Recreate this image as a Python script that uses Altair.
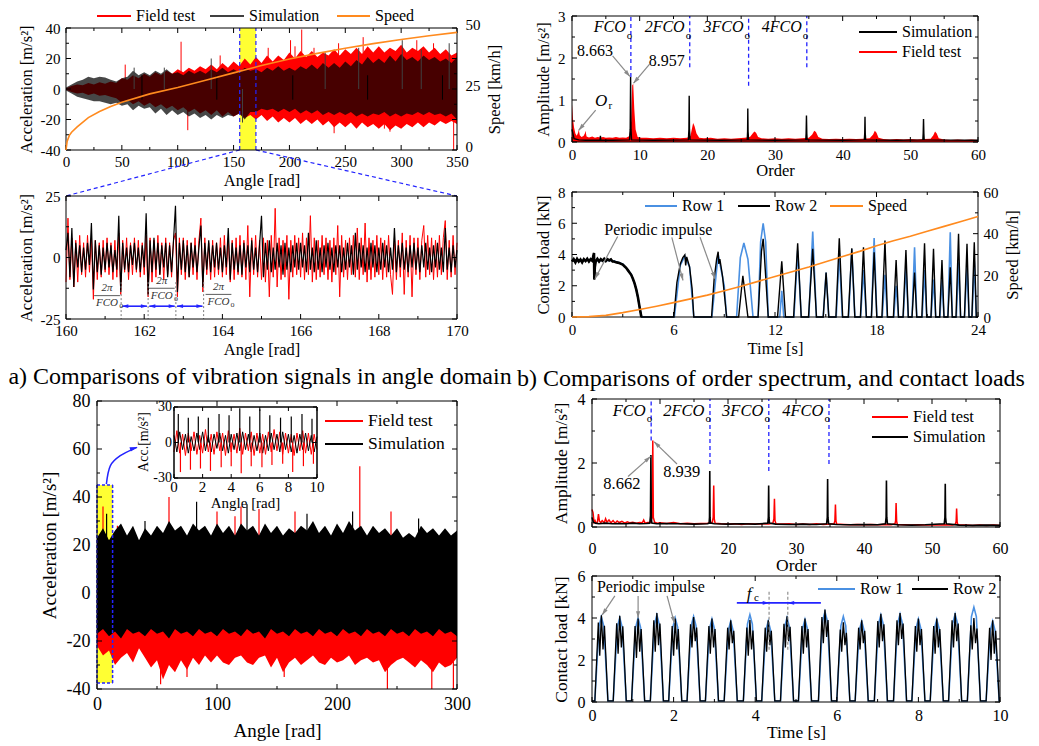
import math
import altair as alt
import pandas as pd

FONT = "Liberation Serif"
RED = "#ff0000"
ORANGE = "#ff8a1e"
LBLUE = "#4a90e2"
DBLUE = "#2323ff"
GRAY = "#8a8a8a"
YELLOW = "#ffff33"

# ============================ DATA ============================
# (a) top: envelopes of acceleration vs angle (read every 5 rad)
TL_X = list(range(0, 351, 5))
TL_RED_HI = [0.5, 2, 3, 2.5, 4, 3, 4.5, 3.5, 5, 4,
             7, 6, 9, 7, 10, 8, 11, 9, 12, 10,
             13, 11, 14, 12, 15, 13, 16, 13, 17, 14,
             18, 15, 20, 16, 21, 17, 22, 18, 22, 19,
             24, 20, 25, 21, 25, 21, 24, 22, 26, 22,
             26, 23, 27, 23, 28, 24, 28, 24, 27, 25,
             29, 24, 27, 25, 28, 24, 27, 23, 26, 22,
             24]
TL_RED_LO = [-0.5, -2, -3, -2.5, -4, -3, -4.5, -4, -5, -6,
             -9, -7, -10, -8, -11, -9, -12, -10, -13, -11,
             -14, -12, -15, -13, -16, -14, -17, -14, -18, -15,
             -18, -16, -19, -17, -20, -17, -21, -18, -22, -19,
             -22, -19, -23, -20, -23, -20, -24, -21, -25, -22,
             -25, -22, -26, -22, -25, -23, -26, -23, -27, -24,
             -26, -23, -25, -22, -25, -22, -24, -21, -23, -21,
             -23]
TL_SIM_HI = [1, 3, 5, 6, 8, 7, 8, 7.5, 6, 5,
             7, 8, 12, 9, 11, 9, 12, 10, 13, 10,
             11, 9, 12, 10, 12, 10, 13, 11, 14, 11,
             13, 11, 14, 12, 13, 11, 14, 12, 15, 12,
             14, 12, 15, 13, 16, 13, 17, 14, 17, 14,
             18, 15, 19, 16, 21, 17, 20, 17, 22, 18,
             23, 19, 21, 18, 22, 19, 21, 18, 20, 17,
             21]
TL_SIM_LO = [-1, -3, -5, -6, -7, -8, -8, -9, -10, -9,
             -11, -10, -14, -11, -13, -12, -16, -13, -17, -14,
             -17, -15, -18, -16, -19, -17, -20, -17, -19, -17,
             -18, -16, -20, -15, -15, -13, -14, -13, -15, -13,
             -15, -13, -16, -14, -16, -14, -17, -15, -17, -15,
             -17, -15, -18, -16, -18, -16, -17, -15, -18, -16,
             -18, -16, -17, -15, -17, -15, -17, -16, -18, -16,
             -20]
TL_RSPK_X = [53, 103, 109, 138, 181, 201, 205, 211, 222, 240, 244, 266, 285, 290, 314, 329, 347]
TL_RSPK_V = [16, 31, -27, 22, 27, 32, 28, 39, 27, -29, 30, 34, -26, -28, 32, 30, -40]
TL_SSPK_X = [61, 88, 130, 158, 232, 262, 301, 318, 343]
TL_SSPK_V = [14, 14, 20, -22, 24, 27, 32, 26, 30]
TL_IMP_X = [68, 135, 203, 270, 337]
TL_SPD_X = [0, 1, 3, 5, 10, 20, 30, 40, 50, 75, 100, 125, 150, 175, 200, 225, 250, 275, 300, 325, 350]
TL_SPD_V = [0, 3.5, 6, 7.3, 9.5, 13.3, 15.8, 17.8, 19.6, 23.0, 25.6, 28.6, 31.6, 34.6, 37.3, 39.6,
            41.7, 43.6, 45.3, 46.8, 48.2]

# (a) middle: 160-170 rad, samples every 0.05 rad
ML_X = [round(160 + 0.05 * i, 2) for i in range(201)]
ML_SIM = ([3, 10, -8, 12, -12, 6, -4, 5, -6, 4, -5, 6, -3, 14, -13, 7, -6, 5, -7, 4]
          + [-5, 6, -4, 5, -6, 3, -5, 17, -14, 6, -5, 4, -6, 5, -3, 6, -5, 4, -6, 5]
          + [-4, 18, -15, 7, -6, 8, -5, 6, -7, 5, -4, 6, -8, 5, -6, 7, 21, -14, 6, -5]
          + [7, -6, 5, -8, 6, -4, 5, -6, 4, 13, -12, 6, -5, 7, -6, 5, -4, 6, -5, 4]
          + [-6, 5, -4, 12, -9, 6, -5, 4, -6, 5, -7, 6, -4, 5, -6, 7, -5, 4, -6, 5]
          + [17, -8, 6, -5, 7, -6, 4, -5, 6, -4, 5, -7, 6, -5, 4, -6, 5, -4, 6, -5]
          + [6, -4, 5, -6, 10, -5, 4, -6, 7, -5, 4, -6, 5, -4, 6, -5, 4, -6, 5, -4]
          + [5, -6, 4, -5, 6, -4, 5, -7, 10, -5, 6, -4, 5, -6, 4, -5, 6, -4, 5, -6]
          + [4, -5, 6, -4, 5, -6, 4, -5, 12, -6, 5, -4, 6, -5, 4, -6, 5, -4, 6, -5]
          + [4, -6, 5, -4, 6, -5, 4, -6, 5, -4, 6, -5, 4, -6, 12, -5, 4, -6, 5, -4]
          + [3])
ML_RED = ([-10, 16, -9, 8, -12, 7, -10, 9, -7, 6, -8, 9, -6, 8, -17, 7, -9, 6, -8, 7]
          + [-6, 8, -7, 6, -9, 7, -8, 10, -15, 7, -6, 8, -9, 6, -7, 8, -6, 7, -8, 6]
          + [-7, 9, -16, 8, -10, 7, -8, 9, -7, 6, -9, 8, -7, 6, -8, 7, 10, -16, 8, -7]
          + [8, -9, 7, -8, 6, -7, 8, -9, 7, 16, -14, 8, -7, 6, -9, 7, -8, 6, -7, 8]
          + [-8, 9, -7, 8, -10, 7, -9, 8, -7, 9, -8, 7, -9, 13, -16, 8, -7, 9, -8, 7]
          + [-9, 8, -10, 7, -16, 9, -8, 20, -12, 8, -9, 7, -8, 9, -17, 7, -8, 9, -7, 8]
          + [-8, 10, -9, 8, -7, 17, -10, 8, -9, 7, -8, 9, -7, 8, -9, 7, -10, 8, -7, 13]
          + [-16, 9, -8, 7, -9, 8, -7, 9, -8, 12, -9, 8, -7, 14, -10, 8, -9, 7, -8, 9]
          + [-7, 8, -9, 7, -8, 9, -7, -15, 8, -9, 7, -8, 10, -15, 7, -8, 9, -16, 8, -7]
          + [8, -9, 7, 13, -8, 9, -7, 8, -9, 7, -8, 9, -7, 8, 15, -9, 7, -8, 9, -7]
          + [6])
ML_MARK_X = [161.41, 162.10, 162.81, 163.52]
ML_FR_X = [161.05, 162.45, 163.9]
ML_FR_BAR = [-15.5, -12.5, -15.0]

# (a) bottom: 0-300 rad envelopes (every 5 rad)
BL_X = list(range(0, 301, 5))
BL_SIM_HI = [23, 27, 22, 26, 29, 24, 28, 22, 27, 24,
             28, 25, 30, 26, 28, 24, 29, 26, 28, 24,
             29, 25, 28, 24, 29, 26, 28, 24, 29, 25,
             28, 24, 27, 25, 28, 26, 30, 25, 28, 24,
             29, 25, 30, 26, 28, 24, 28, 25, 27, 24,
             27, 23, 25, 23, 28, 25, 27, 24, 27, 24,
             26]
BL_SIM_LO = [-17, -15, -18, -16, -19, -15, -17, -16, -18, -15,
             -17, -16, -19, -15, -17, -16, -18, -15, -17, -16,
             -18, -15, -17, -16, -18, -15, -17, -16, -19, -15,
             -17, -16, -18, -15, -17, -16, -18, -15, -17, -16,
             -18, -15, -17, -16, -18, -15, -17, -16, -18, -15,
             -17, -16, -18, -15, -17, -16, -18, -15, -17, -16,
             -18]
BL_RED_HI = [21, 24, 20, 23, 25, 22, 25, 20, 24, 22,
             25, 23, 27, 23, 25, 22, 26, 23, 25, 22,
             26, 23, 25, 22, 26, 23, 25, 22, 26, 23,
             25, 22, 24, 23, 25, 23, 27, 23, 25, 22,
             26, 23, 27, 23, 25, 22, 25, 23, 24, 22,
             24, 21, 23, 21, 25, 23, 24, 22, 24, 22,
             23]
BL_RED_LO = [-22, -26, -24, -30, -27, -25, -29, -23, -27, -31,
             -28, -36, -30, -33, -28, -32, -27, -30, -26, -29,
             -26, -29, -30, -27, -26, -29, -30, -27, -26, -31,
             -27, -33, -29, -27, -30, -28, -26, -29, -30, -27,
             -29, -28, -26, -30, -28, -27, -29, -28, -33, -30,
             -28, -27, -29, -31, -28, -30, -33, -29, -31, -30,
             -27]
BL_RSPK_X = [5, 17, 53, 60, 75, 100, 115, 120, 135, 156, 165, 219, 242, 245, 279, 297]
BL_RSPK_V = [36, 28, -38, 40, -35, 34, 32, 36, 35, -35, 34, 52.8, -40, 34, -40, -40]
BL_SSPK_X = [8, 40, 83, 125, 175, 213, 268]
BL_SSPK_V = [33, 30, 38, 37, 33, 34, 31]
# inset 0-10 rad, every 0.2 rad
INS_X = [round(0.2 * i, 1) for i in range(51)]
INS_SIM = [6, -8, 9, -6, 7, -9, 5, -7, 8, -6, 9, -7, 6, -8, 7, -5, 8, -7, 6, -9,
           7, -6, 8, -7, 9, -6, 7, -8, 6, -7, 8, -9, 6, -7, 8, -6, 7, -8, 9, -6,
           7, -8, 6, -9, 7, -6, 8, -7, 6, -8, 5]
INS_RED = [-8, 10, -9, 7, -11, 8, -7, 9, -10, 6, -9, 11, -8, 7, -10, 9, -7, 8, -11, 10,
           -8, 7, -9, 12, -10, 8, -7, 9, -11, 8, -9, 7, -10, 9, -8, 11, -7, 9, -10, 8,
           -9, 7, -11, 8, -7, 10, -9, 8, -10, 7, -6]
INS_SSPK_X = [0.3, 1.0, 1.7, 2.4, 3.15, 3.85, 4.6, 5.3, 6.0, 6.7, 7.45, 8.2, 8.95, 9.65]
INS_SSPK_V = [24, 21, 22, 21, 24, 23, 29, 22, 28, 23, 21, 22, 24, 20]
INS_RSPK_X = [0.45, 1.15, 1.85, 2.55, 3.3, 4.0, 4.7, 5.4, 6.15, 6.85, 7.6, 8.3, 9.05, 9.75]
INS_RSPK_V = [-25, -23, -22, -24, -21, -20, -26, -20, -21, -19, -18, -25, -20, -18]

# (b) top: order spectrum
TR_RED_X = [0, 0.15, 0.3, 0.5, 0.7, 0.9, 1.0, 1.15, 1.4, 1.7,
            1.9, 2.0, 2.15, 2.5, 3.0, 3.4, 3.8, 4.2, 4.6, 5.0,
            5.5, 6.0, 6.5, 7.0, 7.5, 8.0, 8.5, 8.75, 8.9, 9.05,
            9.2, 9.4, 9.7, 10.2, 11, 12, 13, 14, 15, 16,
            17, 17.5, 17.7, 17.9, 18.1, 18.4, 18.8, 19.5, 20.5, 21.5,
            22.5, 23.5, 24.5, 25.5, 26.3, 26.7, 26.95, 27.2, 27.5, 28,
            29, 30, 31, 32, 33, 34, 35, 35.5, 35.8, 36.05,
            36.4, 37, 38, 39, 40, 41, 42, 43, 44, 44.5,
            44.75, 45.0, 45.3, 46, 47, 48, 49, 50, 51, 52,
            53, 53.4, 53.65, 53.9, 54.2, 55, 56, 57, 58, 59,
            60]
TR_RED_Y = [0.9, 0.55, 0.35, 0.2, 0.15, 0.22, 0.3, 0.16, 0.12, 0.14,
            0.2, 0.27, 0.13, 0.11, 0.13, 0.1, 0.12, 0.11, 0.12, 0.1,
            0.11, 0.1, 0.12, 0.1, 0.11, 0.1, 0.14, 0.5, 1.35, 1.38,
            0.8, 0.3, 0.12, 0.1, 0.1, 0.09, 0.1, 0.09, 0.1, 0.09,
            0.1, 0.14, 0.3, 0.45, 0.38, 0.2, 0.1, 0.09, 0.1, 0.08,
            0.09, 0.08, 0.09, 0.1, 0.12, 0.2, 0.25, 0.22, 0.12, 0.09,
            0.08, 0.09, 0.08, 0.09, 0.08, 0.09, 0.1, 0.18, 0.27, 0.24,
            0.12, 0.08, 0.07, 0.08, 0.07, 0.08, 0.07, 0.08, 0.09, 0.18,
            0.27, 0.22, 0.1, 0.07, 0.06, 0.07, 0.06, 0.07, 0.06, 0.07,
            0.08, 0.16, 0.25, 0.2, 0.09, 0.06, 0.05, 0.06, 0.05, 0.06,
            0.05]
TR_SIM_X = [0, 0.3, 1, 2, 3, 4.15, 4.2, 4.25, 6, 8.5,
            8.6, 8.66, 8.72, 8.8, 12, 17.2, 17.28, 17.32, 17.36, 17.45,
            22, 25.9, 25.95, 25.98, 26.02, 26.1, 30, 34.55, 34.6, 34.65,
            34.7, 34.75, 40, 43.2, 43.26, 43.3, 43.34, 43.4, 48, 51.85,
            51.9, 51.95, 52.0, 52.05, 60]
TR_SIM_Y = [0.3, 0.08, 0.05, 0.04, 0.04, 0.04, 0.15, 0.04, 0.04, 0.05,
            0.3, 1.55, 0.3, 0.05, 0.04, 0.05, 0.3, 1.1, 0.3, 0.05,
            0.04, 0.05, 0.25, 0.8, 0.25, 0.05, 0.04, 0.05, 0.2, 0.63,
            0.2, 0.05, 0.04, 0.05, 0.2, 0.6, 0.2, 0.05, 0.04, 0.05,
            0.2, 0.55, 0.2, 0.05, 0.04]
TR_FCO_X = [8.7, 17.4, 26.1, 34.7]
TR_FCO_LOW = [1.55, 1.78, 1.34, 1.78]
FCO_TEXT = ["FCO", "2FCO", "3FCO", "4FCO"]

# (b) contact loads over 24 s
R2_ROW2_T = ([0.0, 0.1, 0.2, 0.3, 0.4, 0.5, 0.6, 0.7, 0.8, 0.9, 1.0, 1.1, 1.2, 1.3, 1.32, 1.35,
              1.4, 1.5, 1.6, 1.7, 1.8, 1.9, 2.0, 2.1, 2.2, 2.3, 2.4, 2.5, 2.6, 2.7, 2.8, 2.9,
              3.0, 3.1, 3.2, 3.3, 3.4, 3.5, 3.6, 3.7, 3.8, 3.9, 4.0, 4.1]
             + [6.02, 6.2, 6.4, 6.55, 6.67, 6.72, 6.78, 6.95, 7.1, 7.2,
                8.25, 8.4, 8.55, 8.64, 8.68, 8.74, 8.9, 9.05, 9.14,
                9.85, 10.1, 10.4, 11.0, 11.2, 11.3, 11.35, 11.6,
                12.15, 12.4, 12.62, 13.1, 13.34, 13.55, 13.98, 14.23, 14.45,
                14.85, 15.02, 15.18, 15.6, 15.8, 16.0, 16.33, 16.54, 16.72,
                17.05, 17.23, 17.4, 17.7, 17.86, 18.02, 18.32, 18.5, 18.65,
                19.0, 19.16, 19.3, 19.57, 19.74, 19.88, 20.1, 20.25, 20.38,
                20.68, 20.84, 20.97, 21.22, 21.37, 21.5, 21.73, 21.87, 21.99,
                22.22, 22.36, 22.48, 22.7, 22.85, 22.97, 23.2, 23.35, 23.47,
                23.64, 23.78, 23.9, 24.0])
R2_ROW2_V = ([3.55, 3.7, 3.5, 3.72, 3.55, 3.68, 3.5, 3.7, 3.58, 3.72, 3.55, 3.7, 3.6, 4.1, 2.4, 3.2,
              3.55, 3.72, 3.55, 3.7, 3.6, 3.72, 3.58, 3.7, 3.62, 3.68, 3.55, 3.55, 3.5, 3.48, 3.45, 3.4,
              3.35, 3.25, 3.15, 3.0, 2.85, 2.7, 2.45, 2.15, 1.75, 1.25, 0.6, 0.0]
             + [0, 2.2, 3.4, 3.8, 3.97, 3.3, 3.85, 3.2, 1.8, 0,
                0, 2.4, 3.7, 4.18, 3.4, 3.7, 2.6, 1.0, 0,
                0, 2.64, 0, 0, 4.2, 5.0, 4.3, 0,
                0, 3.56, 0, 0, 4.72, 0, 0, 4.36, 0,
                0, 2.85, 0, 0, 5.04, 0, 0, 4.4, 0,
                0, 4.46, 0, 0, 4.14, 0, 0, 4.89, 0,
                0, 3.65, 0, 0, 4.29, 0, 0, 2.85, 0,
                0, 4.72, 0, 0, 4.36, 0, 0, 3.65, 0,
                0, 3.18, 0, 0, 5.32, 0, 0, 4.68, 0,
                0, 4.79, 0, 0])
R2_ROW1_T = ([0, 0.5, 1.0, 1.3, 1.5, 2.0, 2.5, 3.0, 3.5, 3.8, 4.0, 4.12]
             + [6.05, 6.4, 6.67, 6.95, 7.2, 8.27, 8.64, 9.0, 9.14,
                9.73, 9.95, 10.16, 10.4, 10.7, 11.0, 11.15, 11.3, 11.45, 11.6,
                12.28, 12.4, 12.52, 13.12, 13.34, 13.55, 14.0, 14.23, 14.45,
                14.85, 15.02, 15.18, 15.62, 15.8, 15.98, 16.35, 16.54, 16.72,
                17.06, 17.23, 17.4, 17.7, 17.86, 18.02, 18.34, 18.5, 18.64,
                19.02, 19.16, 19.3, 19.58, 19.74, 19.88, 20.1, 20.25, 20.38,
                20.7, 20.84, 20.97, 21.23, 21.37, 21.5, 21.75, 21.87, 21.99,
                22.22, 22.36, 22.48, 22.72, 22.85, 22.97, 23.2, 23.35, 23.47,
                23.65, 23.78, 23.9, 24.0])
R2_ROW1_V = ([3.68, 3.62, 3.66, 3.62, 3.6, 3.64, 3.58, 3.4, 2.75, 1.8, 0.6, 0]
             + [0, 3.3, 3.9, 3.2, 0, 0, 4.0, 2.0, 0,
                0, 3.8, 4.74, 3.7, 0, 0, 4.8, 6.0, 4.8, 0,
                0, 1.67, 0, 0, 4.25, 0, 0, 5.47, 0,
                0, 2.85, 0, 0, 4.1, 0, 0, 4.35, 0,
                0, 3.0, 0, 0, 5.06, 0, 0, 2.7, 0,
                0, 2.0, 0, 0, 3.2, 0, 0, 4.46, 0,
                0, 3.0, 0, 0, 2.4, 0, 0, 2.4, 0,
                0, 5.43, 0, 0, 3.5, 0, 0, 3.2, 0,
                0, 3.6, 0, 0])
R2_SPD_T = list(range(0, 25))
R2_SPD_V = [0, 0.2, 0.8, 2.1, 3.6, 5.2, 6.9, 8.7, 10.5, 12.6, 14.8, 17.1, 19.4, 21.7, 24.0,
            26.5, 29.0, 31.5, 34.2, 36.6, 38.8, 41.2, 43.5, 45.8, 48.2]

# (b) second order spectrum
R3_RED_X = [0, 0.15, 0.3, 0.45, 0.6, 0.8, 0.95, 1.1, 1.3, 1.5,
            1.8, 2.0, 2.2, 2.5, 2.8, 3.1, 3.4, 3.7, 4.0, 4.4,
            4.8, 5.2, 5.6, 6.0, 6.5, 7.0, 7.4, 7.6, 7.8, 8.2,
            8.6, 8.85, 8.94, 9.02, 9.2, 9.6, 10, 11, 12, 13,
            14, 15, 16, 17, 17.7, 17.82, 17.9, 17.98, 18.1, 19,
            20, 21, 22, 23, 24, 25, 26, 26.6, 26.75, 26.83,
            26.91, 27.05, 28, 29, 30, 31, 32, 33, 34, 35,
            35.6, 35.72, 35.8, 35.88, 36.0, 37, 38, 39, 40, 41,
            42, 43, 44, 44.55, 44.65, 44.72, 44.8, 44.9, 46, 47,
            48, 49, 50, 51, 52, 53, 53.45, 53.55, 53.62, 53.7,
            53.8, 55, 56, 57, 58, 59, 60]
R3_RED_Y = [0.55, 0.45, 0.15, 0.2, 0.12, 0.15, 0.4, 0.18, 0.14, 0.2,
            0.13, 0.26, 0.15, 0.22, 0.13, 0.2, 0.12, 0.19, 0.14, 0.18,
            0.12, 0.16, 0.13, 0.15, 0.12, 0.14, 0.13, 0.22, 0.12, 0.14,
            0.15, 0.3, 2.7, 0.3, 0.15, 0.12, 0.13, 0.11, 0.14, 0.1,
            0.12, 0.1, 0.11, 0.12, 0.15, 0.3, 1.3, 0.25, 0.12, 0.1,
            0.09, 0.1, 0.08, 0.1, 0.09, 0.1, 0.09, 0.12, 0.25, 0.88,
            0.2, 0.1, 0.09, 0.1, 0.08, 0.09, 0.08, 0.1, 0.08, 0.09,
            0.1, 0.2, 0.7, 0.18, 0.09, 0.08, 0.07, 0.08, 0.07, 0.08,
            0.07, 0.08, 0.07, 0.1, 0.2, 0.75, 0.18, 0.08, 0.07, 0.06,
            0.07, 0.06, 0.07, 0.06, 0.07, 0.06, 0.09, 0.18, 0.58, 0.15,
            0.07, 0.06, 0.05, 0.06, 0.05, 0.06, 0.05]
R3_SIM_X = [0, 0.2, 0.5, 1, 2, 3, 4, 5, 6, 7,
            8, 8.5, 8.6, 8.66, 8.72, 8.8, 9.5, 11, 13, 15,
            17, 17.22, 17.28, 17.32, 17.36, 17.42, 18, 20, 22, 24,
            25.85, 25.93, 25.98, 26.03, 26.1, 27, 29, 31, 33, 34.5,
            34.6, 34.65, 34.7, 34.8, 36, 38, 40, 42, 43.15, 43.25,
            43.3, 43.35, 43.45, 45, 47, 49, 51.8, 51.9, 51.95, 52.0,
            52.1, 54, 56, 58, 60]
R3_SIM_Y = [0.3, 0.15, 0.12, 0.1, 0.12, 0.1, 0.11, 0.1, 0.12, 0.1,
            0.11, 0.12, 0.35, 2.25, 0.3, 0.12, 0.1, 0.11, 0.1, 0.09,
            0.1, 0.12, 0.3, 1.75, 0.3, 0.12, 0.1, 0.09, 0.1, 0.09,
            0.12, 0.3, 1.3, 0.3, 0.12, 0.09, 0.08, 0.09, 0.08, 0.1,
            0.3, 1.5, 0.3, 0.1, 0.08, 0.07, 0.08, 0.07, 0.1, 0.3,
            1.45, 0.3, 0.1, 0.07, 0.06, 0.07, 0.1, 0.3, 1.35, 0.3,
            0.1, 0.06, 0.05, 0.06, 0.05]
R3_FCO_X = [8.7, 17.35, 26.0, 34.85]
R3_FCO_LOW = [2.7, 1.97, 1.75, 1.97]

# (b) contact loads over 10 s (one hump per row-2 impulse)
R4_PEAK_T = [0.23, 0.68, 1.13, 1.59, 2.04, 2.49, 2.94, 3.40, 3.87, 4.32, 4.78,
             5.22, 5.71, 6.16, 6.61, 7.08, 7.55, 8.00, 8.45, 8.90, 9.36, 9.82]
R4_START = [0.07, 0.52, 0.97, 1.43, 1.88, 2.33, 2.78, 3.24, 3.71, 4.16, 4.62,
            5.06, 5.55, 6.00, 6.45, 6.92, 7.39, 7.84, 8.29, 8.74, 9.20, 9.66]
R4_END = [0.39, 0.84, 1.29, 1.75, 2.20, 2.65, 3.10, 3.56, 4.03, 4.48, 4.94,
          5.38, 5.87, 6.32, 6.77, 7.24, 7.71, 8.16, 8.61, 9.06, 9.52, 9.98]
R4_ROW2 = [4.13, 4.10, 3.97, 4.24, 3.97, 4.05, 3.97, 3.89, 3.90, 3.89, 4.08,
           3.97, 4.40, 3.80, 3.89, 4.20, 4.24, 3.97, 3.97, 4.24, 4.00, 3.89]
R4_ROW1 = [4.05, 4.02, 4.00, 4.15, 4.00, 4.08, 3.95, 3.85, 4.16, 3.85, 4.02,
           3.93, 4.30, 4.08, 3.85, 4.15, 4.18, 3.95, 3.93, 4.18, 4.52, 3.85]
R4_DIP = [2.2, 2.3, 2.1, 2.4, 2.2, 2.6, 2.3, 2.5, 2.2, 2.4, 2.6,
          2.3, 2.8, 2.4, 2.5, 2.6, 2.7, 2.4, 2.3, 2.6, 2.5, 2.0]

# ============================ HELPERS ============================
HEAD = "M0,-1L0.55,0.9L-0.55,0.9Z"


def tab(**cols):
    n = min(len(v) for v in cols.values())
    return pd.DataFrame({k: list(v)[:n] for k, v in cols.items()})


def axis(title, values, lab, tit, lpad, tpad, orient=None, offset=None, tangle=None, tbase=None,
         loff=None):
    kw = dict(title=title, values=values, grid=False, domain=False, ticks=False,
              labelFont=FONT, titleFont=FONT, labelFontSize=lab, titleFontSize=tit,
              titleFontWeight="normal", labelColor="black", titleColor="black",
              labelPadding=lpad, titlePadding=tpad, labelFlush=False, labelOverlap=False,
              labelExpr="'' + datum.value")
    if orient:
        kw["orient"] = orient
    if offset is not None:
        kw["offset"] = offset
    if tangle is not None:
        kw["titleAngle"] = tangle
    if tbase is not None:
        kw["titleBaseline"] = tbase
    if loff is not None:
        kw["labelOffset"] = loff
    return alt.Axis(**kw)


def mkX(dom, ax, rng=None):
    sk = dict(domain=dom, nice=False, zero=False)
    if rng is not None:
        sk["range"] = rng
    sc = alt.Scale(**sk)
    return lambda f: alt.X(f, type="quantitative", scale=sc, axis=ax)


def mkY(dom, ax, rng=None):
    sk = dict(domain=dom, nice=False, zero=False)
    if rng is not None:
        sk["range"] = rng
    sc = alt.Scale(**sk)
    return lambda f: alt.Y(f, type="quantitative", scale=sc, axis=ax)


def one():
    return alt.Chart(pd.DataFrame({"a": [0]}))


def frame(X, Y, x0, x1, y0, y1, color="black", dash=None, sw=1):
    d = pd.DataFrame({"fa": [x0, x0, x0, x1], "fb": [x1, x1, x0, x1],
                      "ga": [y0, y1, y0, y0], "gb": [y0, y1, y1, y1]})
    mk = dict(color=color, strokeWidth=sw)
    if dash:
        mk["strokeDash"] = dash
    return alt.Chart(d).mark_rule(**mk).encode(x=X("fa"), x2="fb", y=Y("ga"), y2="gb")


def ticks(X, Y, xl, xr, yt, yb, xmaj, xmin, ymaj, ymin, right=True, L=5, l=3):
    out = []
    for vals, ln in ((xmaj, L), (xmin, l)):
        if vals:
            c = alt.Chart(pd.DataFrame({"tv": vals})).mark_rule(color="black", strokeWidth=1)
            out.append(c.encode(x=X("tv"), y=alt.value(yb), y2=alt.value(yb - ln)))
            out.append(c.encode(x=X("tv"), y=alt.value(yt), y2=alt.value(yt + ln)))
    for vals, ln in ((ymaj, L), (ymin, l)):
        if vals:
            c = alt.Chart(pd.DataFrame({"tv": vals})).mark_rule(color="black", strokeWidth=1)
            out.append(c.encode(y=Y("tv"), x=alt.value(xl), x2=alt.value(xl + ln)))
            if right:
                out.append(c.encode(y=Y("tv"), x=alt.value(xr), x2=alt.value(xr - ln)))
    return out


def legend(x0, x1, y, color, label, fs, sw=2):
    return [one().mark_rule(color=color, strokeWidth=sw).encode(
                x=alt.value(x0), x2=alt.value(x1), y=alt.value(y)),
            one().mark_text(text=label, font=FONT, fontSize=fs, align="left", baseline="middle",
                            color="black").encode(x=alt.value(x1 + 5), y=alt.value(y))]


def text_at(X, Y, x, y, s, fs, align="center", italic=False, color="black", angle=None):
    mk = dict(text=s, font=FONT, fontSize=fs, align=align, baseline="middle", color=color,
              fontStyle="italic" if italic else "normal")
    if angle is not None:
        mk["angle"] = angle
    return alt.Chart(pd.DataFrame({"ax": [x], "ay": [y]})).mark_text(**mk).encode(x=X("ax"), y=Y("ay"))


def arrow(X, Y, x0, y0, x1, y1, kx, ky, color, sw=1.2, size=60, both=False, line=True):
    out = []
    if line:
        d = pd.DataFrame({"p": [x0], "q": [y0], "p2": [x1], "q2": [y1]})
        out.append(alt.Chart(d).mark_rule(color=color, strokeWidth=sw).encode(
            x=X("p"), y=Y("q"), x2="p2", y2="q2"))

    def head(xa, ya, xb, yb):
        dx = (xb - xa) * kx
        dy = -(yb - ya) * ky
        ln = math.hypot(dx, dy) or 1.0
        ang = math.degrees(math.atan2(dx, -dy)) % 360
        back = 0.45 * math.sqrt(size)
        hx = xb - dx / ln * back / kx
        hy = yb + dy / ln * back / ky
        return alt.Chart(pd.DataFrame({"p": [hx], "q": [hy]})).mark_point(
            shape=HEAD, filled=True, color=color, size=size, angle=ang, opacity=1,
            strokeWidth=0).encode(x=X("p"), y=Y("q"))
    out.append(head(x0, y0, x1, y1))
    if both:
        out.append(head(x1, y1, x0, y0))
    return out


def spacer(h):
    return alt.Chart(pd.DataFrame({"s": [0]})).mark_point(opacity=0).encode(
        x=alt.X("s:Q", axis=None), y=alt.Y("s:Q", axis=None)).properties(width=1, height=h)


# ============================ PANEL (a) top ============================
LW = 391
TLH = 122
Xtl = mkX([0, 350], axis("Angle [rad]", list(range(0, 351, 50)), 15, 16.5, 4, 3))
Ytl = mkY([-40, 40], axis("Acceleration [m/s²]", [-40, -20, 0, 20, 40], 15, 16.5, 6, 6))
Ytls = mkY([0, 50], axis("Speed [km/h]", [0, 25, 50], 15, 16.5, 8, 6, orient="right",
                         tangle=270, tbase="top", loff=-4))
L = []
L.append(alt.Chart(tab(a=[155.5], b=[170], c=[-40], d=[40])).mark_rect(color=YELLOW).encode(
    x=Xtl("a"), x2="b", y=Ytl("c"), y2="d"))
L.append(alt.Chart(tab(x=TL_X, hi=TL_RED_HI, lo=TL_RED_LO)).mark_area(color=RED).encode(
    x=Xtl("x"), y=Ytl("hi"), y2="lo"))
L.append(alt.Chart(tab(x=TL_RSPK_X, v=TL_RSPK_V, z=[0] * len(TL_RSPK_X))).mark_rule(
    color=RED, strokeWidth=1).encode(x=Xtl("x"), y=Ytl("z"), y2="v"))
L.append(alt.Chart(tab(x=TL_X, hi=TL_SIM_HI, lo=TL_SIM_LO)).mark_area(color="black", opacity=0.72).encode(
    x=Xtl("x"), y=Ytl("hi"), y2="lo"))
L.append(alt.Chart(tab(x=TL_SSPK_X, v=TL_SSPK_V, z=[0] * len(TL_SSPK_X))).mark_rule(
    color="#404040", strokeWidth=1).encode(x=Xtl("x"), y=Ytl("z"), y2="v"))
L.append(alt.Chart(tab(x=TL_IMP_X, a=[-7] * 5, b=[9] * 5)).mark_rule(
    color="black", strokeWidth=1).encode(x=Xtl("x"), y=Ytl("a"), y2="b"))
L.append(alt.Chart(tab(x=[155.5, 170], a=[-40, -40], b=[40, 40])).mark_rule(
    color=DBLUE, strokeWidth=1.2, strokeDash=[4, 3]).encode(x=Xtl("x"), y=Ytl("a"), y2="b"))
Y_ML_TOP = -40 - 46 / (TLH / 80.0)
L.append(alt.Chart(tab(p=[155.5, 170], q=[-40, -40], p2=[0, 350], q2=[Y_ML_TOP, Y_ML_TOP])).mark_rule(
    color=DBLUE, strokeWidth=1.2, strokeDash=[4, 3]).encode(x=Xtl("p"), y=Ytl("q"), x2="p2", y2="q2"))
L.append(frame(Xtl, Ytl, 0, 350, -40, 40))
L += ticks(Xtl, Ytl, 0, LW, 0, TLH, list(range(0, 351, 50)), list(range(25, 350, 50)),
           [-40, -20, 0, 20, 40], [-30, -10, 10, 30])
L += legend(31, 65, -12, RED, "Field test", 16)
L += legend(144, 178, -12, "#404040", "Simulation", 16)
L += legend(271, 304, -12, ORANGE, "Speed", 16)
tl_spd = alt.Chart(tab(x=TL_SPD_X, v=TL_SPD_V)).mark_line(color=ORANGE, strokeWidth=1.6).encode(
    x=Xtl("x"), y=Ytls("v"))
TL = alt.layer(alt.layer(*L), tl_spd).resolve_scale(y="independent").properties(width=LW, height=TLH)

# ============================ PANEL (a) middle ============================
MLH = 123
Xml = mkX([160, 170], axis("Angle [rad]", [160, 162, 164, 166, 168, 170], 15, 16.5, 4, 3))
Yml = mkY([-25, 25], axis("Acceleration [m/s²]", [-25, 0, 25], 15, 16.5, 6, 6))
kx_ml = LW / 10.0
ky_ml = MLH / 50.0
L = []
L.append(alt.Chart(tab(x=ML_X, v=ML_RED)).mark_line(color=RED, strokeWidth=1).encode(
    x=Xml("x"), y=Yml("v")))
L.append(alt.Chart(tab(x=ML_X, v=ML_SIM)).mark_line(color="black", strokeWidth=1.2).encode(
    x=Xml("x"), y=Yml("v")))
L.append(alt.Chart(tab(x=ML_MARK_X, a=[-10] * 4, b=[-25] * 4)).mark_rule(
    color="#7a7a7a", strokeWidth=1, strokeDash=[2, 2]).encode(x=Xml("x"), y=Yml("a"), y2="b"))
for i in range(3):
    xa, xb = ML_MARK_X[i] + 0.03, ML_MARK_X[i + 1] - 0.03
    L += arrow(Xml, Yml, xa, -19.8, xb, -19.8, kx_ml, ky_ml, DBLUE, sw=1.6, size=45, both=True)
for i in range(3):
    fx, fb = ML_FR_X[i], ML_FR_BAR[i]
    L.append(text_at(Xml, Yml, fx, fb + 3.0, "2π", 11, italic=True, color="#333333"))
    L.append(alt.Chart(tab(p=[fx - 0.33], p2=[fx + 0.33], q=[fb])).mark_rule(
        color="#333333", strokeWidth=0.8).encode(x=Xml("p"), x2="p2", y=Yml("q")))
    L.append(text_at(Xml, Yml, fx + 0.28, fb - 3.0, "FCO", 11, align="right", italic=True, color="#333333"))
    L.append(text_at(Xml, Yml, fx + 0.31, fb - 4.2, "o", 8, align="left", color="#333333"))
L.append(frame(Xml, Yml, 160, 170, -25, 25))
L += ticks(Xml, Yml, 0, LW, 0, MLH, [160, 162, 164, 166, 168, 170], [161, 163, 165, 167, 169],
           [-25, 0, 25], [-12.5, 12.5])
ML = alt.layer(*L).properties(width=LW, height=MLH)

# ============================ PANEL (a) bottom ============================
BLH = 288
BX0 = 31
Xbl = mkX([0, 300], axis("Angle [rad]", [0, 100, 200, 300], 18, 19, 6, 8), rng=[BX0, LW])
Ybl = mkY([-40, 80], axis("Acceleration [m/s²]", [-40, -20, 0, 20, 40, 60, 80], 18, 19, 7, 7,
                          offset=-BX0))
kx_bl = (LW - BX0) / 300.0
ky_bl = BLH / 120.0
L = []
L.append(alt.Chart(tab(a=[0], b=[13], c=[-37.5], d=[45])).mark_rect(color=YELLOW).encode(
    x=Xbl("a"), x2="b", y=Ybl("c"), y2="d"))
L.append(alt.Chart(tab(x=BL_X, hi=BL_RED_HI, lo=BL_RED_LO)).mark_area(color=RED).encode(
    x=Xbl("x"), y=Ybl("hi"), y2="lo"))
L.append(alt.Chart(tab(x=BL_RSPK_X, v=BL_RSPK_V, z=[0] * len(BL_RSPK_X))).mark_rule(
    color=RED, strokeWidth=1.2).encode(x=Xbl("x"), y=Ybl("z"), y2="v"))
L.append(alt.Chart(tab(x=BL_X, hi=BL_SIM_HI, lo=BL_SIM_LO)).mark_area(color="black").encode(
    x=Xbl("x"), y=Ybl("hi"), y2="lo"))
L.append(alt.Chart(tab(x=BL_SSPK_X, v=BL_SSPK_V, z=[0] * len(BL_SSPK_X))).mark_rule(
    color="black", strokeWidth=1.2).encode(x=Xbl("x"), y=Ybl("z"), y2="v"))
L.append(frame(Xbl, Ybl, 0, 13, -37.5, 45, color=DBLUE, dash=[3, 2], sw=1.5))
L.append(alt.Chart(tab(x=[7.8, 11.1, 19.4, 33.3], y=[45.4, 53.0, 57.2, 60.7])).mark_line(
    color=DBLUE, strokeWidth=1.5, interpolate="cardinal").encode(x=Xbl("x"), y=Ybl("y")))
L += arrow(Xbl, Ybl, 26.0, 59.6, 33.6, 60.8, kx_bl, ky_bl, DBLUE, size=70, line=False)
L.append(frame(Xbl, Ybl, 0, 300, -40, 80))
L += ticks(Xbl, Ybl, BX0, LW, 0, BLH, [0, 100, 200, 300], [50, 150, 250],
           [-40, -20, 0, 20, 40, 60, 80], [-30, -10, 10, 30, 50, 70])
L += legend(259, 297, 20, RED, "Field test", 17.5)
L += legend(259, 297, 43, "black", "Simulation", 17.5)
L.append(one().mark_text(text="a) Comparisons of vibration signals in angle domain", font=FONT,
                         fontSize=24, align="center", baseline="middle", color="black").encode(
    x=alt.value(194), y=alt.value(-24)))
BL_MAIN = alt.layer(*L)

IX0, IX1, IY0, IY1 = 108, 251, 6, 77
Xin = mkX([0, 10], None, rng=[IX0, IX1])
Yin = mkY([-30, 30], None, rng=[IY1, IY0])
L = []
L.append(alt.Chart(tab(x=INS_X, v=INS_RED)).mark_line(color=RED, strokeWidth=1).encode(
    x=Xin("x"), y=Yin("v")))
L.append(alt.Chart(tab(x=INS_X, v=INS_SIM)).mark_line(color="black", strokeWidth=1).encode(
    x=Xin("x"), y=Yin("v")))
L.append(alt.Chart(tab(x=INS_RSPK_X, v=INS_RSPK_V, z=[0] * 14)).mark_rule(color=RED, strokeWidth=1.2).encode(
    x=Xin("x"), y=Yin("z"), y2="v"))
L.append(alt.Chart(tab(x=INS_SSPK_X, v=INS_SSPK_V, z=[0] * 14)).mark_rule(color="black", strokeWidth=1.2).encode(
    x=Xin("x"), y=Yin("z"), y2="v"))
L.append(frame(Xin, Yin, 0, 10, -30, 30, sw=1.5))
L += ticks(Xin, Yin, IX0, IX1, IY0, IY1, [0, 2, 4, 6, 8, 10], [], [-30, 0, 30], [], L=4)
L.append(alt.Chart(tab(x=[0, 2, 4, 6, 8, 10], s=["0", "2", "4", "6", "8", "10"])).mark_text(
    font=FONT, fontSize=15, baseline="middle", align="center", color="black").encode(
    x=Xin("x"), y=alt.value(IY1 + 9), text="s:N"))
L.append(alt.Chart(tab(y=[30, 0, -30], s=["30", "0", "-30"])).mark_text(
    font=FONT, fontSize=14, baseline="middle", align="right", color="black").encode(
    y=Yin("y"), x=alt.value(IX0 - 2), text="s:N"))
L.append(one().mark_text(text="Angle [rad]", font=FONT, fontSize=15, align="center", baseline="middle",
                         color="black").encode(x=alt.value((IX0 + IX1) / 2), y=alt.value(IY1 + 25)))
L.append(one().mark_text(text="Acc.[m/s²]", font=FONT, fontSize=14, align="center", baseline="middle",
                         color="black", angle=270).encode(x=alt.value(IX0 - 30), y=alt.value(41)))
BL_INSET = alt.layer(*L)
BL = alt.layer(BL_MAIN, BL_INSET).resolve_scale(x="independent", y="independent").properties(
    width=LW, height=BLH)

# ============================ PANEL (b) top ============================
RW = 406
TRH = 126
Xtr = mkX([0, 60], axis("Order", list(range(0, 61, 10)), 15, 16.5, 5, 0))
Ytr = mkY([0, 3], axis("Amplitude [m/s²]", [0, 1, 2, 3], 15, 16.5, 7, 6))
kx_tr = RW / 60.0
ky_tr = TRH / 3.0
L = []
L.append(alt.Chart(tab(x=TR_RED_X, v=TR_RED_Y)).mark_area(color=RED).encode(x=Xtr("x"), y=Ytr("v")))
L.append(alt.Chart(tab(x=TR_SIM_X, v=TR_SIM_Y)).mark_line(color="black", strokeWidth=1.4).encode(
    x=Xtr("x"), y=Ytr("v")))
L.append(alt.Chart(tab(x=TR_FCO_X, a=TR_FCO_LOW, b=[3] * 4)).mark_rule(
    color=DBLUE, strokeWidth=1.3, strokeDash=[4, 3]).encode(x=Xtr("x"), y=Ytr("a"), y2="b"))
for i in range(4):
    L.append(text_at(Xtr, Ytr, TR_FCO_X[i] - 0.75, 2.74, FCO_TEXT[i], 16, align="right", italic=True))
    L.append(text_at(Xtr, Ytr, TR_FCO_X[i] - 0.6, 2.52, "o", 11, align="left"))
L.append(text_at(Xtr, Ytr, 3.4, 2.17, "8.663", 16))
L += arrow(Xtr, Ytr, 6.0, 2.05, 8.55, 1.56, kx_tr, ky_tr, GRAY, size=55)
L.append(text_at(Xtr, Ytr, 14.0, 1.93, "8.957", 16))
L += arrow(Xtr, Ytr, 11.5, 1.86, 9.1, 1.4, kx_tr, ky_tr, GRAY, size=55)
L.append(text_at(Xtr, Ytr, 4.3, 0.97, "O", 17, italic=True))
L.append(text_at(Xtr, Ytr, 5.4, 0.85, "r", 11, align="left"))
L += arrow(Xtr, Ytr, 3.5, 0.76, 1.0, 0.28, kx_tr, ky_tr, GRAY, size=55)
L.append(frame(Xtr, Ytr, 0, 60, 0, 3))
L += ticks(Xtr, Ytr, 0, RW, 0, TRH, list(range(0, 61, 10)), list(range(5, 60, 10)),
           [0, 1, 2, 3], [0.5, 1.5, 2.5])
L += legend(287, 325, 16, "black", "Simulation", 16)
L += legend(287, 325, 36, RED, "Field test", 16)
TR = alt.layer(*L).properties(width=RW, height=TRH)

# ============================ PANEL (b) contact loads 24 s ============================
R2H = 125
Xr2 = mkX([0, 24], axis("Time [s]", [0, 6, 12, 18, 24], 15, 16.5, 5, 3))
Yr2 = mkY([0, 8], axis("Contact load [kN]", [0, 2, 4, 6, 8], 15, 16.5, 7, 6))
Yr2s = mkY([0, 60], axis("Speed [km/h]", [0, 20, 40, 60], 15, 16.5, 5, 6, orient="right",
                         tangle=270, tbase="top"))
kx_r2 = RW / 24.0
ky_r2 = R2H / 8.0
L = []
L.append(alt.Chart(tab(x=R2_ROW1_T, v=R2_ROW1_V)).mark_line(color=LBLUE, strokeWidth=1.6).encode(
    x=Xr2("x"), y=Yr2("v")))
L.append(alt.Chart(tab(x=R2_ROW2_T[:44], v=R2_ROW2_V[:44])).mark_line(color="black", strokeWidth=2.6).encode(
    x=Xr2("x"), y=Yr2("v")))
L.append(alt.Chart(tab(x=R2_ROW2_T, v=R2_ROW2_V)).mark_line(color="black", strokeWidth=1.4).encode(
    x=Xr2("x"), y=Yr2("v")))
L.append(text_at(Xr2, Yr2, 5.1, 5.55, "Periodic impulse", 16))
L += arrow(Xr2, Yr2, 2.7, 5.15, 1.36, 2.45, kx_r2, ky_r2, GRAY, size=55)
L += arrow(Xr2, Yr2, 5.9, 5.1, 6.56, 2.35, kx_r2, ky_r2, GRAY, size=55)
L += arrow(Xr2, Yr2, 7.57, 5.1, 8.45, 2.45, kx_r2, ky_r2, GRAY, size=55)
L.append(frame(Xr2, Yr2, 0, 24, 0, 8))
L += ticks(Xr2, Yr2, 0, RW, 0, R2H, [0, 6, 12, 18, 24], [3, 9, 15, 21], [0, 2, 4, 6, 8], [1, 3, 5, 7],
           right=False)
L += legend(73, 105, 14, LBLUE, "Row 1", 16)
L += legend(166, 198, 14, "black", "Row 2", 16)
L += legend(258, 291, 14, ORANGE, "Speed", 16)
S = [alt.Chart(tab(x=R2_SPD_T, v=R2_SPD_V)).mark_line(color=ORANGE, strokeWidth=1.6).encode(
    x=Xr2("x"), y=Yr2s("v"))]
for vals, ln in (([0, 20, 40, 60], 5), ([10, 30, 50], 3)):
    S.append(alt.Chart(pd.DataFrame({"tv": vals})).mark_rule(color="black").encode(
        y=Yr2s("tv"), x=alt.value(RW), x2=alt.value(RW - ln)))
R2 = alt.layer(alt.layer(*L), alt.layer(*S)).resolve_scale(y="independent").properties(
    width=RW, height=R2H)

# ============================ PANEL (b) second spectrum ============================
R3W = 428
RX0 = 20
R3H = 128
Xr3 = mkX([0, 60], axis("Order", list(range(0, 61, 10)), 16, 17.5, 13, 0), rng=[RX0, R3W])
Yr3 = mkY([0, 4], axis("Amplitude [m/s²]", [0, 2, 4], 16, 17.5, 7, 7, offset=-RX0))
kx_r3 = (R3W - RX0) / 60.0
ky_r3 = R3H / 4.0
L = []
L.append(alt.Chart(tab(x=R3_RED_X, v=R3_RED_Y)).mark_line(color=RED, strokeWidth=1.5).encode(
    x=Xr3("x"), y=Yr3("v")))
L.append(alt.Chart(tab(x=R3_SIM_X, v=R3_SIM_Y)).mark_line(color="black", strokeWidth=1.6).encode(
    x=Xr3("x"), y=Yr3("v")))
L.append(alt.Chart(tab(x=R3_FCO_X, a=R3_FCO_LOW, b=[4] * 4)).mark_rule(
    color=DBLUE, strokeWidth=1.3, strokeDash=[4, 3]).encode(x=Xr3("x"), y=Yr3("a"), y2="b"))
for i in range(4):
    L.append(text_at(Xr3, Yr3, R3_FCO_X[i] - 0.8, 3.62, FCO_TEXT[i], 16.5, align="right", italic=True))
    L.append(text_at(Xr3, Yr3, R3_FCO_X[i] - 0.65, 3.36, "o", 11, align="left"))
L.append(text_at(Xr3, Yr3, 4.4, 1.34, "8.662", 16.5))
L += arrow(Xr3, Yr3, 5.3, 1.58, 8.6, 2.2, kx_r3, ky_r3, GRAY, size=55)
L.append(text_at(Xr3, Yr3, 13.2, 1.72, "8.939", 16.5))
L += arrow(Xr3, Yr3, 12.5, 1.97, 9.15, 2.66, kx_r3, ky_r3, GRAY, size=55)
L.append(frame(Xr3, Yr3, 0, 60, 0, 4))
L += ticks(Xr3, Yr3, RX0, R3W, 0, R3H, list(range(0, 61, 10)), list(range(5, 60, 10)),
           [0, 2, 4], [1, 3])
L += legend(300, 336, 18, RED, "Field test", 16.5)
L += legend(300, 336, 38, "black", "Simulation", 16.5)
L.append(one().mark_text(text="b) Comparisons of order spectrum, and contact loads", font=FONT,
                         fontSize=24, align="center", baseline="middle", color="black").encode(
    x=alt.value(199), y=alt.value(-20)))
R3 = alt.layer(*L).properties(width=R3W, height=R3H)

# ============================ PANEL (b) contact loads 10 s ============================
R4H = 126
Xr4 = mkX([0, 10], axis("Time [s]", [0, 2, 4, 6, 8, 10], 16, 17.5, 5, 0), rng=[RX0, R3W])
Yr4 = mkY([0, 6], axis("Contact load [kN]", [0, 2, 4, 6], 16, 17.5, 7, 7, offset=-RX0))
kx_r4 = (R3W - RX0) / 10.0
ky_r4 = R4H / 6.0
r4_bt, r4_bv, r4_lt, r4_lv = [0.0], [0.05], [0.0], [0.05]
for s, p, v, v1, d, e in zip(R4_START, R4_PEAK_T, R4_ROW2, R4_ROW1, R4_DIP, R4_END):
    r4_bt += [s, p - 0.075, p - 0.04, p, p + 0.04, p + 0.075, e]
    r4_bv += [0.05, v - 0.35, d, v, d + 0.3, v - 0.5, 0.05]
    r4_lt += [s, p - 0.06, p, p + 0.06, e]
    r4_lv += [0.05, v1 - 0.45, v1, v1 - 0.45, 0.05]
r4_bt.append(10.0)
r4_bv.append(0.05)
r4_lt.append(10.0)
r4_lv.append(0.05)
L = []
L.append(alt.Chart(tab(x=r4_lt, v=r4_lv)).mark_line(color=LBLUE, strokeWidth=1.6).encode(
    x=Xr4("x"), y=Yr4("v")))
L.append(alt.Chart(tab(x=r4_bt, v=r4_bv)).mark_line(color="black", strokeWidth=1.3).encode(
    x=Xr4("x"), y=Yr4("v")))
L.append(text_at(Xr4, Yr4, 0.12, 5.48, "Periodic impulse", 16, align="left"))
L += arrow(Xr4, Yr4, 0.56, 5.05, 0.25, 4.15, kx_r4, ky_r4, GRAY, size=55)
L += arrow(Xr4, Yr4, 1.13, 5.05, 1.13, 4.0, kx_r4, ky_r4, GRAY, size=55)
L += arrow(Xr4, Yr4, 1.84, 5.05, 2.02, 3.75, kx_r4, ky_r4, GRAY, size=55)
L.append(alt.Chart(tab(x=[4.34, 4.8], a=[5.25, 5.25], b=[2.4, 2.4])).mark_rule(
    color="#7a7a7a", strokeWidth=1, strokeDash=[3, 2]).encode(x=Xr4("x"), y=Yr4("a"), y2="b"))
L.append(alt.Chart(tab(p=[3.55], p2=[5.61], q=[4.72])).mark_rule(color=DBLUE, strokeWidth=1.6).encode(
    x=Xr4("p"), x2="p2", y=Yr4("q")))
L += arrow(Xr4, Yr4, 3.9, 4.72, 4.34, 4.72, kx_r4, ky_r4, DBLUE, size=50, line=False)
L += arrow(Xr4, Yr4, 5.2, 4.72, 4.8, 4.72, kx_r4, ky_r4, DBLUE, size=50, line=False)
L.append(text_at(Xr4, Yr4, 3.85, 5.15, "f", 17, italic=True))
L.append(text_at(Xr4, Yr4, 3.97, 4.95, "c", 11, align="left"))
L.append(frame(Xr4, Yr4, 0, 10, 0, 6))
L += ticks(Xr4, Yr4, RX0, R3W, 0, R4H, [0, 2, 4, 6, 8, 10], [1, 3, 5, 7, 9], [0, 2, 4, 6], [1, 3, 5])
L += legend(246, 283, 13, LBLUE, "Row 1", 16.5)
L += legend(340, 376, 13, "black", "Row 2", 16.5)
R4 = alt.layer(*L).properties(width=R3W, height=R4H)

# ============================ LAYOUT ============================
left = alt.vconcat(spacer(12), TL, spacer(46), ML, spacer(82), BL, spacing=0, bounds="flush")
right = alt.vconcat(TR, spacer(50), R2, spacer(82), R3, spacer(49), R4, spacing=0, bounds="flush")
chart = (alt.hconcat(left, right, spacing=5)
         .properties(padding={"left": 0, "top": 0, "right": 0, "bottom": 0})
         .configure_view(strokeOpacity=0)
         .configure_axis(labelFont=FONT, titleFont=FONT, titleFontWeight="normal"))

chart.save("out.html", embed_options={"renderer": "svg", "actions": False})
